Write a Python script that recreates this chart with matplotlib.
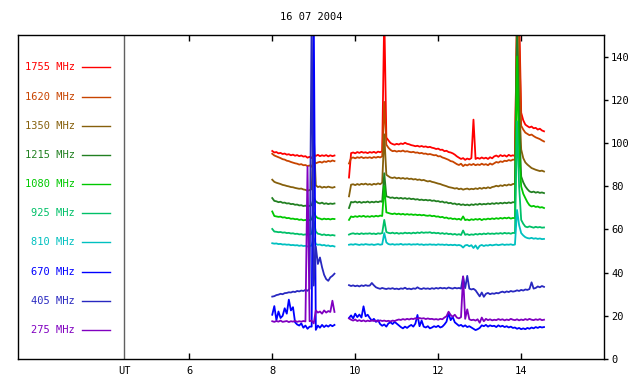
import numpy as np
import matplotlib
matplotlib.use("Agg")
import matplotlib.pyplot as plt

# time grids (hours UT) for the two recorded intervals
t_seg1 = np.round(np.arange(8.00, 9.501, 0.05), 2)
t_seg2 = np.round(np.arange(9.85, 14.551, 0.05), 2)

freqs = ["1755 MHz", "1620 MHz", "1350 MHz", "1215 MHz", "1080 MHz",
         "925 MHz", "810 MHz", "670 MHz", "405 MHz", "275 MHz"]
colors = ["#ff0000", "#c84400", "#86600c", "#228022", "#00c800",
          "#00c068", "#00c0c0", "#0000ff", "#2828c0", "#8000c0"]

s1755_a = [96.3, 95.6, 95.8, 95.2, 95.4, 94.9, 95.1, 94.6, 94.8, 94.3, 94.6, 94.1, 94.4, 93.9, 94.2, 93.7,
           93.9, 93.2, 93.6, 93.0, 94.6, 94.0, 94.5, 93.9, 94.3, 94.0, 94.4, 93.8, 94.3, 93.9, 94.2]
s1755_b = [84.0, 95.3, 95.6, 95.2, 95.8, 95.4, 95.9, 95.5, 95.7, 95.3,
           95.8, 95.5, 95.9, 95.4, 96.0, 95.7, 96.2, 160.0, 102.5, 101.2,
           100.0, 99.5, 99.2, 99.6, 99.3, 99.8, 99.5, 100.1, 99.6, 99.4,
           99.0, 98.8, 98.5, 98.7, 98.3, 98.6, 98.2, 98.4, 98.0, 98.2,
           97.8, 97.6, 97.2, 97.4, 96.8, 96.9, 96.2, 96.4, 95.8, 95.6,
           95.2, 94.6, 93.8, 93.2, 92.6, 93.0, 92.2, 92.8, 92.4, 93.0,
           110.8, 92.6, 93.1, 92.7, 93.3, 92.8, 93.2, 92.6, 93.4, 92.9,
           93.8, 94.2, 93.6, 94.4, 93.9, 94.3, 93.7, 94.5, 94.0, 94.3,
           94.0, 160.0, 160.0, 114.0, 110.5, 108.5, 107.8, 107.2, 107.6, 106.8,
           107.0, 106.2, 106.6, 105.8, 105.4]

s1620_a = [95.0, 94.2, 93.8, 93.4, 93.0, 92.5, 92.3, 91.8, 91.6, 91.2, 90.9, 90.6, 90.4, 90.0, 90.2, 89.7,
           89.8, 89.3, 89.6, 89.0, 91.2, 90.6, 91.0, 91.3, 90.9, 91.5, 91.2, 91.7, 91.4, 91.9, 91.6]
s1620_b = [90.5, 93.0, 93.3, 92.9, 93.4, 93.1, 93.5, 93.0, 93.3, 93.1,
           93.4, 93.0, 93.5, 93.2, 93.6, 93.3, 93.8, 119.0, 99.2, 97.8,
           96.8, 96.2, 96.4, 96.0, 96.3, 96.1, 96.5, 96.0, 96.2, 95.9,
           95.7, 95.9, 95.5, 95.6, 95.2, 95.4, 95.0, 95.1, 94.7, 94.9,
           94.6, 94.3, 94.4, 93.8, 93.9, 93.3, 93.0, 92.6, 92.2, 91.6,
           91.4, 90.8, 90.2, 89.8, 90.4, 89.3, 90.0, 89.6, 90.2, 89.8,
           90.3, 89.7, 90.1, 89.8, 90.4, 89.9, 90.2, 89.7, 90.5, 90.0,
           90.6, 91.2, 90.9, 91.5, 91.2, 91.8, 91.6, 92.1, 91.8, 92.3,
           92.2, 160.0, 150.0, 108.0, 106.2, 104.8, 104.2, 103.6, 103.9, 103.2,
           102.6, 102.2, 101.8, 101.2, 100.7]

s1350_a = [83.0, 82.0, 81.6, 81.3, 81.0, 80.6, 80.4, 80.1, 79.9, 79.6, 79.5, 79.2, 79.0, 78.8, 78.9, 78.5,
           78.3, 77.9, 78.2, 78.6, 104.0, 80.4, 79.6, 79.9, 79.3, 79.7, 79.4, 79.8, 79.5, 79.3, 79.6]
s1350_b = [75.3, 80.7, 80.9, 80.5, 81.0, 80.6, 81.1, 80.8, 81.2, 80.7,
           81.0, 80.6, 81.1, 80.8, 81.3, 80.9, 81.6, 104.0, 85.3, 84.6,
           84.0, 83.8, 84.1, 83.6, 83.9, 83.5, 83.8, 83.4, 83.7, 83.3,
           83.5, 83.1, 83.3, 82.9, 83.1, 82.7, 82.9, 82.5, 82.2, 82.4,
           82.0, 81.8, 81.5, 81.2, 81.0, 80.6, 80.3, 80.0, 79.6, 79.4,
           79.2, 78.9, 79.1, 78.6, 78.9, 78.4, 78.7, 78.9, 78.5, 78.8,
           78.6, 79.0, 78.7, 79.2, 78.8, 79.3, 79.0, 79.5, 79.1, 79.6,
           79.8, 80.2, 79.9, 80.4, 80.1, 80.6, 80.3, 80.8, 80.5, 81.0,
           81.1, 160.0, 120.0, 97.0, 93.0, 91.0, 90.0, 89.2, 88.4, 88.0,
           87.6, 87.3, 87.0, 87.2, 86.8]

s1215_a = [74.5, 73.2, 73.0, 72.6, 72.8, 72.3, 72.4, 72.0, 72.1, 71.7, 71.8, 71.4, 71.5, 71.1, 71.2, 70.8,
           71.0, 70.6, 70.9, 71.2, 74.6, 73.0, 72.3, 72.0, 72.4, 71.8, 72.1, 71.7, 72.0, 71.8, 72.0]
s1215_b = [69.9, 72.7, 72.5, 72.9, 72.4, 72.8, 72.3, 72.7, 72.5, 72.9,
           72.4, 72.8, 72.5, 72.9, 72.6, 73.0, 72.8, 86.0, 75.3, 75.0,
           74.6, 74.8, 74.4, 74.7, 74.3, 74.6, 74.2, 74.5, 74.1, 74.4,
           74.0, 74.2, 73.8, 74.0, 73.6, 73.8, 73.5, 73.7, 73.4, 73.6,
           73.2, 73.4, 73.0, 73.1, 72.7, 72.9, 72.4, 72.6, 72.1, 72.3,
           71.8, 72.0, 71.5, 71.8, 71.3, 71.6, 71.2, 71.5, 71.1, 71.6,
           71.3, 71.7, 71.4, 71.9, 71.5, 71.8, 71.6, 72.0, 71.7, 72.1,
           71.8, 72.2, 71.9, 72.3, 72.0, 72.4, 72.1, 72.5, 72.2, 72.6,
           72.5, 150.0, 110.0, 84.5, 81.8, 79.9, 78.6, 77.6, 77.2, 77.5,
           77.0, 77.3, 76.9, 77.1, 76.8]

s1080_a = [68.3, 66.2, 66.0, 65.8, 65.9, 65.5, 65.6, 65.2, 65.3, 64.9, 65.0, 64.7, 64.8, 64.4, 64.6, 64.2,
           64.4, 64.0, 64.3, 64.6, 68.0, 66.0, 65.2, 65.0, 64.6, 65.0, 64.7, 64.9, 64.6, 64.9, 64.8]
s1080_b = [64.4, 66.0, 65.7, 66.1, 65.8, 66.2, 65.9, 66.3, 65.8, 66.1,
           65.8, 66.2, 65.9, 66.3, 66.0, 66.4, 66.2, 80.0, 67.9, 67.6,
           67.3, 67.1, 67.4, 67.0, 67.3, 66.9, 67.2, 66.8, 67.1, 66.8,
           67.0, 66.7, 66.9, 66.6, 66.8, 66.5, 66.7, 66.4, 66.3, 66.5,
           66.1, 66.3, 65.9, 66.0, 65.6, 65.8, 65.3, 65.5, 65.0, 65.2,
           64.8, 65.0, 64.6, 64.9, 64.4, 66.0, 64.3, 64.6, 64.2, 64.7,
           64.4, 64.8, 64.5, 64.9, 64.3, 64.8, 64.6, 65.0, 64.7, 65.1,
           64.8, 65.2, 64.9, 65.3, 65.0, 65.4, 65.1, 65.5, 65.0, 65.3,
           65.2, 140.0, 95.0, 79.9, 76.5, 74.5, 72.6, 71.2, 70.6, 70.9,
           70.4, 70.6, 70.1, 70.3, 69.9]

s925_a = [60.2, 59.0, 58.9, 58.7, 58.8, 58.5, 58.6, 58.3, 58.4, 58.1, 58.2, 57.9, 58.0, 57.7, 57.8, 57.5,
          57.7, 57.4, 57.6, 58.0, 63.7, 59.0, 58.0, 57.8, 57.4, 57.7, 57.3, 57.5, 57.2, 57.4, 57.2]
s925_b = [57.6, 58.0, 58.2, 57.9, 58.1, 57.8, 58.2, 57.9, 58.1, 58.0,
          58.2, 57.9, 58.1, 57.8, 58.2, 58.0, 58.3, 64.4, 58.8, 58.4,
          58.2, 58.5, 58.1, 58.4, 58.0, 58.3, 58.1, 58.5, 58.2, 58.4,
          58.1, 58.5, 58.2, 58.6, 58.3, 58.7, 58.4, 58.6, 58.5, 58.7,
          58.3, 58.5, 58.2, 58.4, 58.0, 58.3, 57.9, 58.2, 57.8, 58.0,
          57.6, 57.9, 57.5, 57.8, 57.4, 59.5, 57.5, 57.8, 57.4, 57.7,
          57.5, 57.9, 57.6, 58.0, 57.7, 58.1, 57.8, 58.2, 57.9, 58.1,
          57.9, 58.2, 58.0, 58.3, 58.0, 58.4, 58.1, 58.3, 58.0, 58.4,
          58.3, 110.0, 80.0, 64.4, 62.6, 61.3, 61.0, 61.4, 61.1, 60.8,
          61.2, 60.9, 61.1, 60.8, 60.9]

s810_a = [53.6, 53.4, 53.5, 53.2, 53.3, 53.0, 53.1, 52.9, 53.0, 52.7, 52.8, 52.6, 52.7, 52.4, 52.6, 52.3,
          52.4, 52.1, 52.3, 52.5, 56.0, 53.2, 52.9, 53.0, 52.6, 52.8, 52.4, 52.6, 52.2, 52.4, 52.1]
s810_b = [52.9, 53.1, 52.9, 53.2, 53.0, 52.8, 53.1, 52.9, 53.2, 53.0,
          52.9, 53.1, 52.8, 53.0, 53.2, 52.9, 53.1, 58.3, 54.0, 53.2,
          53.0, 53.2, 52.9, 53.1, 53.0, 53.3, 52.9, 53.1, 53.0, 53.2,
          52.9, 53.1, 53.0, 53.2, 52.9, 53.1, 52.8, 53.0, 52.9, 53.1,
          52.9, 53.0, 52.8, 53.1, 52.9, 53.0, 52.8, 53.0, 52.7, 52.9,
          52.7, 52.9, 52.6, 52.8, 52.5, 51.6, 52.6, 52.8, 52.2, 52.7,
          51.4, 52.6, 51.0, 52.4, 52.8, 52.3, 52.7, 52.5, 52.9, 52.6,
          52.8, 53.0, 52.7, 52.9, 53.1, 52.8, 53.0, 52.9, 53.1, 52.8,
          53.0, 69.0, 62.0, 58.3, 57.2, 56.4, 56.0, 55.8, 56.1, 55.7,
          55.9, 55.6, 55.8, 55.5, 55.6]

s670_a = [20.5, 24.5, 18.0, 22.0, 19.0, 20.0, 23.5, 21.0, 27.5, 22.5, 24.0, 17.0, 16.0, 15.5, 16.5, 14.5,
          15.5, 14.0, 15.0, 15.0, 160.0, 13.5, 15.5, 14.5, 15.8, 14.8, 15.6, 15.0, 15.8, 15.2, 15.8]
s670_b = [19.0, 20.2, 18.8, 21.0, 19.4, 20.6, 19.2, 24.4, 19.8, 20.5,
          19.0, 17.8, 18.6, 17.2, 18.0, 16.2, 15.4, 16.0, 15.0, 16.5,
          17.0, 16.2, 17.2, 16.4, 15.6, 14.8, 14.2, 15.0, 14.4, 15.2,
          15.8, 15.0, 16.4, 20.4, 15.2, 17.8, 15.0, 14.6, 15.2, 14.2,
          14.6, 15.2, 14.8, 15.4, 14.6, 15.0, 16.0, 17.3, 21.3, 18.0,
          19.5, 17.0, 16.2, 15.4, 15.8, 15.0, 15.6, 14.8, 15.2, 14.6,
          14.0, 13.4, 13.8, 14.4, 15.6, 15.2, 15.8, 15.0, 15.6, 15.2,
          15.4, 14.8, 15.6, 15.0, 15.4, 14.8, 15.2, 14.6, 15.0, 14.4,
          14.6, 14.0, 14.4, 13.8, 14.2, 13.8, 14.4, 14.0, 14.6, 14.2,
          14.8, 14.4, 14.9, 14.6, 14.8]

s405_a = [28.9, 29.1, 29.6, 29.8, 30.2, 30.0, 30.5, 30.6, 30.9, 30.8, 31.2, 31.0, 31.5, 31.3, 31.7, 31.5,
          32.0, 31.6, 32.5, 160.0, 34.0, 52.0, 44.0, 47.0, 42.5, 39.0, 37.0, 36.2, 37.8, 38.5, 39.5]
s405_b = [34.2, 33.8, 34.1, 33.7, 34.0, 33.6, 34.1, 33.8, 34.2, 33.9,
          34.0, 35.2, 34.1, 33.2, 32.8, 32.5, 32.9, 32.6, 32.4, 32.7,
          32.5, 32.8, 32.4, 32.6, 32.3, 32.7, 32.5, 33.0, 32.4, 32.6,
          32.3, 32.7, 32.5, 33.2, 32.6, 32.4, 32.8, 32.5, 32.7, 32.4,
          32.8, 32.5, 32.9, 32.6, 33.0, 32.7, 32.9, 32.6, 33.1, 32.8,
          32.6, 33.0, 32.7, 32.9, 32.6, 38.2, 32.8, 38.5, 32.6, 32.2,
          32.5, 31.8, 30.4, 29.0, 30.8, 28.8, 30.2, 30.6, 30.0, 30.4,
          30.2, 30.6, 30.4, 30.9, 31.2, 30.8, 31.3, 31.0, 31.5, 31.2,
          31.4, 31.8, 31.5, 32.0, 31.7, 32.2, 32.0, 32.4, 35.5, 32.6,
          32.9, 33.6, 33.2, 33.8, 33.4]

s275_a = [17.5, 17.2, 17.6, 17.3, 17.8, 17.2, 17.4, 17.6, 17.1, 17.5, 17.3, 17.7, 17.2, 17.5, 17.3, 17.6,
          17.4, 89.0, 17.5, 17.8, 16.5, 22.5, 21.5, 22.0, 21.0, 22.5, 21.5, 22.2, 21.8, 27.0, 21.8]
s275_b = [18.8, 18.2, 17.8, 18.3, 17.6, 18.0, 17.5, 17.9, 17.4, 17.8,
          17.5, 17.9, 17.6, 17.8, 17.4, 17.9, 17.6, 17.8, 17.5, 17.7,
          17.4, 17.8, 17.6, 18.0, 18.3, 18.1, 18.5, 18.2, 18.6, 18.3,
          18.7, 18.5, 18.9, 18.6, 19.0, 18.7, 18.9, 18.5, 18.8, 18.5,
          18.6, 18.3, 18.5, 18.2, 18.6, 18.4, 19.2, 19.8, 21.9, 20.4,
          19.6, 20.5, 19.2, 18.8, 19.4, 38.2, 18.6, 23.0, 18.4, 18.0,
          18.2, 17.8, 18.4, 16.8, 19.2, 17.5, 18.6, 18.0, 18.4, 17.9,
          18.2, 18.0, 18.5, 18.1, 18.4, 17.9, 18.3, 18.0, 18.6, 18.2,
          18.0, 18.4, 17.9, 18.3, 18.0, 18.5, 18.1, 18.6, 18.2, 18.0,
          18.4, 18.1, 18.5, 18.0, 18.2]

series = [(s1755_a, s1755_b), (s1620_a, s1620_b), (s1350_a, s1350_b), (s1215_a, s1215_b),
          (s1080_a, s1080_b), (s925_a, s925_b), (s810_a, s810_b), (s670_a, s670_b),
          (s405_a, s405_b), (s275_a, s275_b)]

# legend rows sit at fixed flux levels in the left margin
legend_y = [135, 121.5, 108, 94.5, 81, 67.5, 54, 40.5, 27, 13.5]

plt.rcParams['font.family'] = ['DejaVu Sans Mono']
fig = plt.figure(figsize=(6.4, 3.84), dpi=100)
ax = fig.add_axes([0.028, 0.065, 0.916, 0.844])

t = np.concatenate([t_seg1, [np.nan], t_seg2])
for (a, b), c in zip(series, colors):
    v = np.concatenate([a, [np.nan], b])
    ax.plot(t, v, color=c, lw=1.3)

for name, c, y in zip(freqs, colors, legend_y):
    ax.text(3.25, y, name, color=c, fontsize=7.5, ha='right', va='center')
    ax.plot([3.41, 4.10], [y, y], color=c, lw=1.0)

ax.axvline(4.43, color='#606060', lw=1.0)

ax.set_xlim(1.87, 16.0)
ax.set_ylim(0, 150)
ax.set_xticks([4.43, 6, 8, 10, 12, 14])
ax.set_xticklabels(['UT', '6', '8', '10', '12', '14'], fontsize=7.5)
ax.tick_params(axis='x', direction='in', top=True, length=4, width=1, pad=5)
xt = ax.xaxis.get_major_ticks()[0]
xt.tick1line.set_visible(False)
xt.tick2line.set_visible(False)
ax.yaxis.tick_right()
ax.set_yticks(range(0, 141, 20))
ax.tick_params(axis='y', direction='out', length=3, width=1, pad=2, labelsize=7.5)
for s in ax.spines.values():
    s.set_linewidth(1.0)

fig.text(0.487, 0.955, '16 07 2004', fontsize=7.5, ha='center', va='center')

fig.savefig('out.png', dpi=100)
plt.close(fig)
